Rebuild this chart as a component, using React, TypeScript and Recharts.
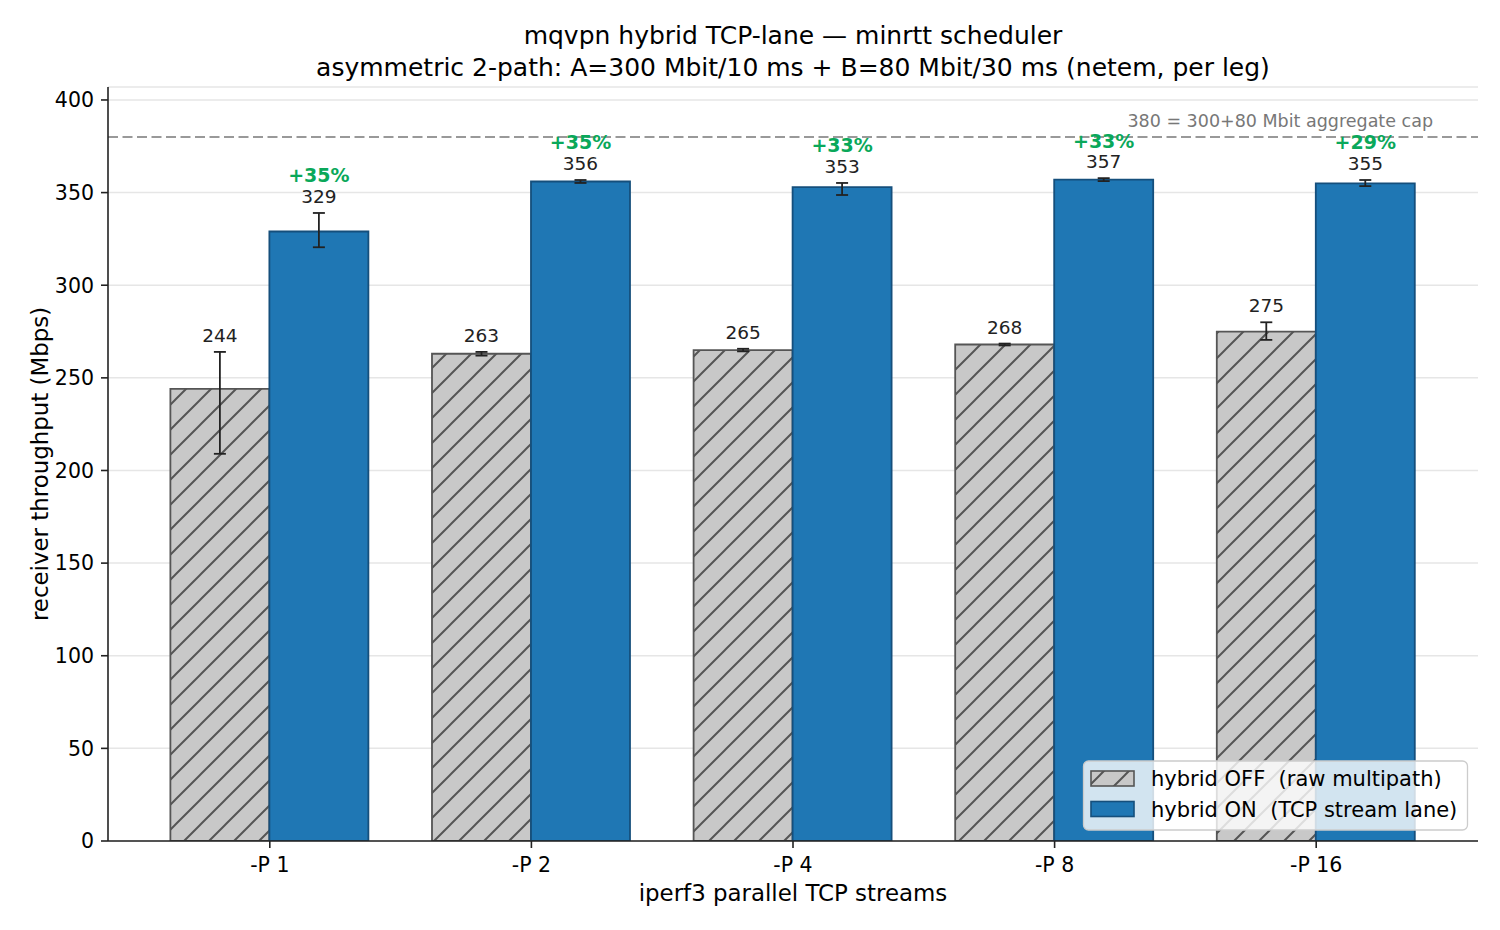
import React from 'react';
import {
  BarChart,
  Bar,
  XAxis,
  YAxis,
  CartesianGrid,
  ErrorBar,
  LabelList,
  ReferenceLine,
} from 'recharts';

// iperf3 -P settings on the x axis
const streams = ['-P 1', '-P 2', '-P 4', '-P 8', '-P 16'];

// receiver throughput (Mbps), mean of runs
const offMbps = [244, 263, 265, 268, 275];
const onMbps = [329, 356, 353, 357, 355];

// min / max spread around the mean: [below, above]
const offErr = [[35, 20], [1, 1], [0.7, 0.7], [0.5, 0.5], [4.5, 5]];
const onErr = [[8.5, 10], [0.8, 0.8], [4.3, 2.2], [0.8, 0.8], [1.5, 1.8]];

const yTicks = [0, 50, 100, 150, 200, 250, 300, 350, 400];
const capMbps = 380;

const rows = streams.map((name, i) => ({
  name,
  off: offMbps[i],
  on: onMbps[i],
  offErr: offErr[i],
  onErr: onErr[i],
}));

const FONT = '"DejaVu Sans", sans-serif';
const BLUE = '#1f77b4';
const BLUE_EDGE = '#154f7c';
const GRAY = '#c8c8c8';
const GRAY_EDGE = '#555555';
const GREEN = '#0aa85a';

function valueLabel(errs: number[][], withGain: boolean) {
  return (props: any) => {
    const vb = props.viewBox || props;
    const x = Number(vb.x);
    const y = Number(vb.y);
    const w = Number(vb.width);
    const h = Math.abs(Number(vb.height));
    const v = Number(props.value);
    const i = Number(props.index);
    const top = Math.min(y, y + Number(vb.height));
    const pxPerUnit = h / v;
    const errTop = top - errs[i][1] * pxPerUnit;
    const cx = x + w / 2;
    const gain = Math.round((onMbps[i] / offMbps[i] - 1) * 100);
    return (
      <g>
        <text x={cx} y={errTop - 10} textAnchor="middle" fontSize={18.5} fill="#222" fontFamily={FONT}>
          {Math.round(v)}
        </text>
        {withGain && (
          <text
            x={cx}
            y={errTop - 30.5}
            textAnchor="middle"
            fontSize={19}
            fontWeight="bold"
            fill={GREEN}
            fontFamily={FONT}
          >
            {`+${gain}%`}
          </text>
        )}
      </g>
    );
  };
}

function capLabel(props: any) {
  const vb = props.viewBox || {};
  const right = Number(vb.x) + Number(vb.width);
  return (
    <text x={right - 45} y={Number(vb.y) - 10} textAnchor="end" fontSize={17.5} fill="#777" fontFamily={FONT}>
      {`${capMbps} = 300+80 Mbit aggregate cap`}
    </text>
  );
}

export default function App() {
  return (
    <div style={{ position: 'absolute', left: 0, top: 0, width: 1500, height: 930, background: '#fff', fontFamily: FONT }}>
      <BarChart
        width={1500}
        height={930}
        data={rows}
        margin={{ top: 87, right: 22, bottom: 49, left: 48 }}
        barCategoryGap="12%"
        barGap={0}
      >
        <defs>
          <pattern id="hatchOff" patternUnits="userSpaceOnUse" width={25} height={25}>
            <rect width={25} height={25} fill={GRAY} />
            <path d="M-5,5 L5,-5 M0,25 L25,0 M20,30 L30,20" stroke={GRAY_EDGE} strokeWidth={2} />
          </pattern>
        </defs>
        <CartesianGrid vertical={false} stroke="#e6e6e6" strokeWidth={1.5} />
        <XAxis
          dataKey="name"
          padding={{ left: 31, right: 31 }}
          height={40}
          tickSize={7}
          tickMargin={9}
          tick={{ fontSize: 20.5, fill: '#000', fontFamily: FONT }}
          tickLine={{ stroke: '#222', strokeWidth: 1.6 }}
          axisLine={{ stroke: '#222', strokeWidth: 1.6 }}
        />
        <YAxis
          width={60}
          domain={[0, 407]}
          allowDataOverflow
          ticks={yTicks}
          tickSize={7}
          tickMargin={7}
          tick={{ fontSize: 20.5, fill: '#000', fontFamily: FONT }}
          tickLine={{ stroke: '#222', strokeWidth: 1.6 }}
          axisLine={{ stroke: '#222', strokeWidth: 1.6 }}
        />
        <ReferenceLine
          y={capMbps}
          stroke="#999"
          strokeWidth={2}
          strokeDasharray="10 4.5"
          label={capLabel}
        />
        <Bar dataKey="off" fill="url(#hatchOff)" stroke={GRAY_EDGE} strokeWidth={1.8} isAnimationActive={false}>
          <ErrorBar dataKey="offErr" width={6} stroke="#222" strokeWidth={1.8} direction="y" isAnimationActive={false} />
          <LabelList dataKey="off" content={valueLabel(offErr, false)} />
        </Bar>
        <Bar dataKey="on" fill={BLUE} stroke={BLUE_EDGE} strokeWidth={1.8} isAnimationActive={false}>
          <ErrorBar dataKey="onErr" width={6} stroke="#222" strokeWidth={1.8} direction="y" isAnimationActive={false} />
          <LabelList dataKey="on" content={valueLabel(onErr, true)} />
        </Bar>
      </BarChart>

      <svg
        width={1500}
        height={930}
        style={{ position: 'absolute', left: 0, top: 0, pointerEvents: 'none' }}
        fontFamily={FONT}
      >
        <defs>
          <pattern id="hatchLegend" patternUnits="userSpaceOnUse" width={25} height={25}>
            <rect width={25} height={25} fill={GRAY} />
            <path d="M-5,5 L5,-5 M0,25 L25,0 M20,30 L30,20" stroke={GRAY_EDGE} strokeWidth={2} />
          </pattern>
        </defs>
        <text x={793} y={44} textAnchor="middle" fontSize={25} fill="#000">
          mqvpn hybrid TCP-lane — minrtt scheduler
        </text>
        <text x={793} y={76} textAnchor="middle" fontSize={25} fill="#000">
          asymmetric 2-path: A=300 Mbit/10 ms + B=80 Mbit/30 ms (netem, per leg)
        </text>
        <text x={793} y={901} textAnchor="middle" fontSize={22.9} fill="#000">
          iperf3 parallel TCP streams
        </text>
        <text x={47.5} y={464} textAnchor="middle" fontSize={22.9} fill="#000" transform="rotate(-90 47.5 464)">
          receiver throughput (Mbps)
        </text>

        <rect x={1083.5} y={761} width={384} height={69} rx={5} fill="#fff" fillOpacity={0.8} stroke="#ccc" strokeWidth={1.3} />
        <rect x={1091} y={771} width={43} height={15} fill="url(#hatchLegend)" stroke={GRAY_EDGE} strokeWidth={1.6} />
        <text x={1151} y={786} fontSize={21} fill="#000" style={{ whiteSpace: 'pre' }}>
          {'hybrid OFF  (raw multipath)'}
        </text>
        <rect x={1091} y={801.5} width={43} height={15} fill={BLUE} stroke={BLUE_EDGE} strokeWidth={1.6} />
        <text x={1151} y={817} fontSize={21} fill="#000" style={{ whiteSpace: 'pre' }}>
          {'hybrid ON  (TCP stream lane)'}
        </text>
      </svg>
    </div>
  );
}
